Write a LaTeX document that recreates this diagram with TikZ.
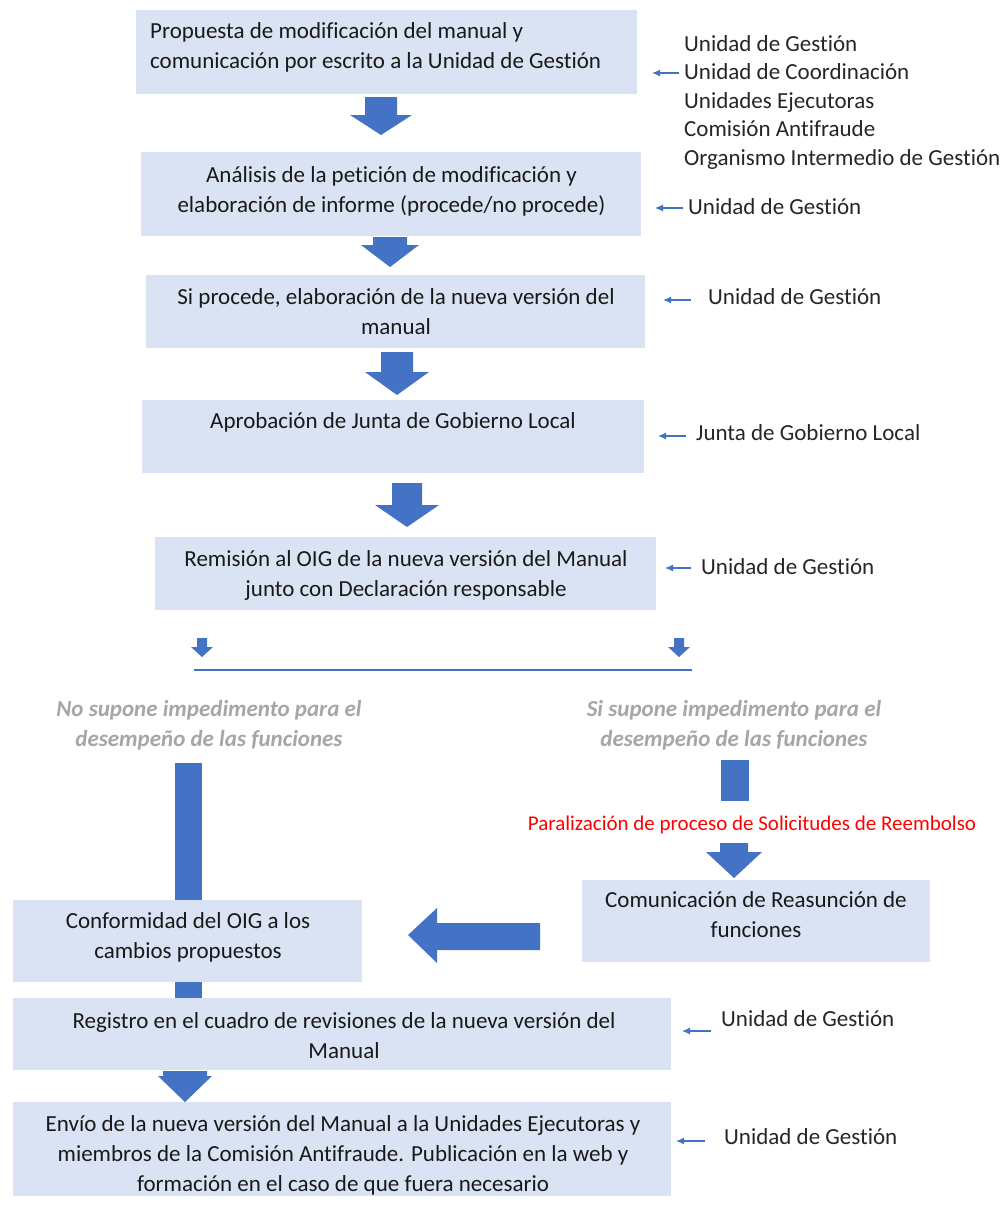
\documentclass[tikz,border=0pt]{standalone}
\usepackage{fontspec}
\setmainfont{Carlito}[Ligatures={NoCommon}]
\usetikzlibrary{arrows.meta}
\definecolor{boxfill}{HTML}{DAE3F3}
\definecolor{arrblue}{HTML}{4472C4}
\definecolor{greytxt}{HTML}{A6A6A6}
\newcommand\fs{\fontsize{23}{30}\selectfont}
% cx, ytop, shaft half, head half, yhead, ytip
\newcommand\dnarrow[6]{\fill[arrblue] (#1-#3,#2) -- (#1+#3,#2) -- (#1+#3,#5) -- (#1+#4,#5) -- (#1,#6) -- (#1-#4,#5) -- (#1-#3,#5) -- cycle;}
\begin{document}
\begin{tikzpicture}[x=1pt,y=-1pt,
  box/.style={fill=boxfill, draw=none, inner sep=0pt},
  txt/.style={font=\fs, align=center, inner sep=0pt, text=black!90},
  lbl/.style={anchor=west, font=\fs, inner sep=0pt, text=black!85},
  side/.style={draw=arrblue, line width=1.2pt, -{Latex[length=8pt,width=7pt]}},
  grey/.style={font=\fs\bfseries\itshape, text=greytxt, align=center, inner sep=0pt}]
\useasboundingbox[fill=white] (0,0) rectangle (1008,1224);

% background vertical bars
\fill[arrblue] (175,763) rectangle (202,998);
\fill[arrblue] (721,760) rectangle (749,801);

% boxes
\node[box, minimum width=501pt, minimum height=84pt] (b1) at (386.5,52) {};
\node[box, minimum width=500pt, minimum height=84pt] (b2) at (391,194) {};
\node[box, minimum width=499pt, minimum height=73pt] (b3) at (395.5,311.5) {};
\node[box, minimum width=502pt, minimum height=73pt] (b4) at (393,436.5) {};
\node[box, minimum width=501pt, minimum height=73pt] (b5) at (405.5,573.5) {};
\node[box, minimum width=348pt, minimum height=82pt] (bcom) at (756,921) {};
\node[box, minimum width=349pt, minimum height=82pt] (bconf) at (187.5,941) {};
\node[box, minimum width=658pt, minimum height=72pt] (breg) at (342,1034) {};
\node[box, minimum width=658pt, minimum height=94pt] (benv) at (342,1149) {};

% box texts
\node[txt, align=left, anchor=west] (x1) at (150,47) {Propuesta de modificación del manual y\\comunicación por escrito a la Unidad de Gestión};
\node[txt] (x2) at (391.5,191) {Análisis de la petición de modificación y\\elaboración de informe (procede/no procede)};
\node[txt] (x3) at (396,312) {Si procede, elaboración de la nueva versión del\\manual};
\node[txt] (x4) at (393,422) {Aprobación de Junta de Gobierno Local};
\node[txt] (x5) at (406,575) {Remisión al OIG de la nueva versión del Manual\\junto con Declaración responsable};
\node[txt] (xcom) at (756,915) {Comunicación de Reasunción de\\funciones};
\node[txt] (xconf) at (188,937) {Conformidad del OIG a los\\cambios propuestos};
\node[txt] (xreg) at (344,1036) {Registro en el cuadro de revisiones de la nueva versión del\\Manual};
\node[txt] (xenv) at (343,1155) {Envío de la nueva versión del Manual a la Unidades Ejecutoras y\\miembros de la Comisión Antifraude. Publicación en la web y\\formación en el caso de que fuera necesario};

% block arrows
\dnarrow{381}{97}{16}{31}{115}{135}
\dnarrow{390}{237}{17}{29}{245}{267}
\dnarrow{397}{352}{16}{32}{372}{395}
\dnarrow{407}{483}{15}{32}{505}{527}
\dnarrow{202}{638}{5}{11}{647}{657}
\dnarrow{679}{638}{5}{11}{647}{657}
\dnarrow{734}{843}{14}{28}{852}{878}
\dnarrow{185}{1071}{22}{27}{1076}{1102}
\fill[arrblue] (540,923) -- (540,950) -- (437,950) -- (437,963) -- (408,935) -- (437,908) -- (437,923) -- cycle;

% split line
\coordinate (sl) at (194,670);
\coordinate (sr) at (692,670);
\draw[arrblue, line width=1.3pt] (sl) -- (sr);

% branch labels
\node[grey] (gl) at (209,725) {No supone impedimento para el\\desempeño de las funciones};
\node[grey] (gr) at (734,725) {Si supone impedimento para el\\desempeño de las funciones};
\node[font=\fontsize{21}{26}\selectfont, text=red, inner sep=0pt] (red) at (752,825) {Paralización de proceso de Solicitudes de Reembolso};

% side labels
\node[lbl, align=left] (l1) at (684,102) {Unidad de Gestión\\[-1.5pt]Unidad de Coordinación\\[-1.5pt]Unidades Ejecutoras\\[-1.5pt]Comisión Antifraude\\[-1.5pt]Organismo Intermedio de Gestión};
\node[lbl] (l2) at (688,207) {Unidad de Gestión};
\node[lbl] (l3) at (708,297) {Unidad de Gestión};
\node[lbl] (l4) at (696,433) {Junta de Gobierno Local};
\node[lbl] (l5) at (701,567) {Unidad de Gestión};
\node[lbl] (l6) at (721,1019) {Unidad de Gestión};
\node[lbl] (l7) at (724,1137) {Unidad de Gestión};

\coordinate (t1) at (652,73);
\coordinate (t2) at (655,208);
\coordinate (t3) at (663,300);
\coordinate (t4) at (658,436);
\coordinate (t5) at (665,568);
\coordinate (t6) at (682,1031);
\coordinate (t7) at (676,1141);
\draw[side] (679,73) -- (t1);
\draw[side] (683,208) -- (t2);
\draw[side] (691,300) -- (t3);
\draw[side] (686,436) -- (t4);
\draw[side] (691,568) -- (t5);
\draw[side] (711,1031) -- (t6);
\draw[side] (705,1141) -- (t7);
\end{tikzpicture}
\end{document}
